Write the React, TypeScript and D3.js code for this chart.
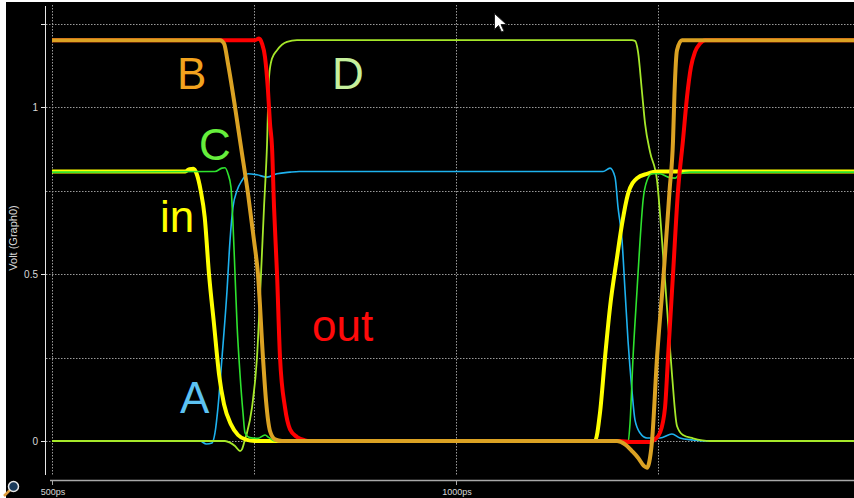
import React from "react";
import * as d3 from "d3";

// Time axis (ps) and signal voltages (V) of the transient simulation
const xTicks = [500, 1000];
const xTickLabels = ["500ps", "1000ps"];
const xGrid = [500, 750, 1000, 1250];
const yGrid = [0, 0.25, 0.5, 0.75, 1, 1.25];
const yTicks = [0, 0.5, 1, 1.25];
const yTickLabels = ["0", "0.5", "1", ""];

// A
const aT = [500, 683, 691, 698, 701.7, 705.4, 710.4, 716.6, 720.3, 724, 729, 735.1, 742.6, 753.7, 766.1, 778.5, 794.6, 806, 1182, 1190.6, 1196.8, 1200.5, 1205.5, 1209.2, 1212.9, 1217.8, 1221.5, 1227.8, 1236.4, 1252.5, 1267.3, 1277.2, 1293.3, 1305, 1493];
const aV = [0, 0, -0.009, -0.006, 0.024, 0.1, 0.25, 0.45, 0.6, 0.7, 0.75, 0.78, 0.8, 0.797, 0.79, 0.8, 0.805, 0.807, 0.807, 0.817, 0.79, 0.7, 0.6, 0.45, 0.3, 0.15, 0.063, 0.024, 0.009, 0.009, 0.021, 0.009, 0.003, 0, 0];

// D
const dT = [500, 714.1, 720.3, 726.5, 732.7, 735.1, 738.9, 741.3, 747.5, 753.7, 758.7, 762.4, 766.1, 768.6, 772.3, 778.5, 790.8, 803.2, 1217.8, 1221.5, 1225.3, 1230.2, 1234, 1240.2, 1248.8, 1255, 1261.1, 1267.3, 1273.5, 1280.9, 1293.3, 1314.4, 1493];
const dV = [0, 0, -0.005, -0.015, -0.03, -0.025, 0.005, 0.024, 0.1, 0.25, 0.5, 0.7, 0.886, 1.09, 1.145, 1.17, 1.195, 1.2, 1.2, 1.198, 1.165, 1.045, 0.95, 0.865, 0.78, 0.6, 0.4, 0.2, 0.045, 0.018, 0.008, 0, 0];

// in
const inT = [500, 665, 670, 675, 679, 684, 689, 694.3, 700.5, 706.7, 712.9, 721.5, 730.2, 740.1, 751, 1172, 1178.2, 1184.4, 1190.6, 1199.3, 1205.5, 1212.9, 1224, 1236.4, 1250, 1493];
const inV = [0.807, 0.807, 0.814, 0.815, 0.8, 0.75, 0.67, 0.5, 0.35, 0.2, 0.11, 0.05, 0.018, 0.004, 0, 0, 0.084, 0.25, 0.4, 0.55, 0.65, 0.74, 0.787, 0.8, 0.807, 0.807];

// C
const cT = [500, 701.7, 710.4, 714.1, 717.8, 721.5, 724, 726.5, 729, 732.7, 736.4, 738.9, 745, 754.9, 763.6, 768.6, 776, 1210, 1212.9, 1215.4, 1219.1, 1224, 1227.8, 1231.5, 1236.4, 1242.6, 1252.5, 1262.4, 1271.1, 1277.2, 1290, 1493];
const cV = [0.805, 0.807, 0.817, 0.818, 0.8, 0.76, 0.65, 0.5, 0.35, 0.2, 0.084, 0.024, 0.01, 0.008, 0.018, 0.01, 0, 0, -0.005, 0.054, 0.25, 0.45, 0.6, 0.72, 0.78, 0.8, 0.8, 0.79, 0.787, 0.8, 0.805, 0.805];

// out
const outT = [500, 751.2, 756.2, 759.9, 763.6, 767.3, 769.8, 772.3, 774.8, 778.5, 782.2, 788.4, 794.6, 803.2, 813.1, 819.3, 1203, 1215.4, 1240.2, 1246.3, 1252.5, 1258.7, 1262.4, 1268.6, 1274.8, 1280.9, 1285.9, 1290.8, 1295.8, 1302, 1308.2, 1493];
const outV = [1.2, 1.2, 1.205, 1.19, 1.15, 1.05, 0.95, 0.88, 0.7, 0.5, 0.25, 0.1, 0.035, 0.012, 0.002, 0, 0, -0.003, -0.003, 0.005, 0.025, 0.1, 0.25, 0.5, 0.75, 0.9, 1.03, 1.12, 1.165, 1.19, 1.2, 1.2];

// B
const bT = [500, 707.9, 712.9, 717.8, 726.5, 733.9, 742.6, 750, 754.9, 761.1, 764.9, 769.8, 776, 784.7, 1199.3, 1209.2, 1217.8, 1225.3, 1232.7, 1236.4, 1239, 1242.6, 1248.8, 1257, 1264.3, 1268.6, 1270.4, 1273.5, 1279.7, 1493];
const bV = [1.2, 1.2, 1.19, 1.13, 1.0, 0.88, 0.74, 0.6, 0.5, 0.25, 0.12, 0.03, 0.005, 0, 0, -0.01, -0.03, -0.05, -0.075, -0.08, -0.065, 0, 0.25, 0.5, 0.75, 0.9, 1.04, 1.17, 1.2, 1.2];

type Trace = { name: string; t: number[]; v: number[]; color: string; width: number };

// drawn back to front
const traces: Trace[] = [
  { name: "A", t: aT, v: aV, color: "#1eb2ef", width: 1.6 },
  { name: "D", t: dT, v: dV, color: "#a6e82a", width: 1.8 },
  { name: "in", t: inT, v: inV, color: "#ffff00", width: 4 },
  { name: "C", t: cT, v: cV, color: "#2ee22e", width: 1.6 },
  { name: "out", t: outT, v: outV, color: "#ff0000", width: 4 },
  { name: "B", t: bT, v: bV, color: "#dba223", width: 4 },
];

const labels = [
  { text: "B", x: 177, y: 89, color: "#f2a31e" },
  { text: "D", x: 332, y: 89, color: "#c6f09c" },
  { text: "C", x: 199, y: 160, color: "#66ee3c" },
  { text: "in", x: 160, y: 232, color: "#ffff00" },
  { text: "A", x: 180, y: 413, color: "#5cc2f2" },
  { text: "out", x: 312, y: 341, color: "#ff0a0a" },
];

const W = 854;
const H = 498;

export default function App() {
  const x = d3.scaleLinear().domain([500, 1000]).range([52, 456]);
  const y = d3.scaleLinear().domain([0, 1]).range([441, 107]);

  const line = (tr: Trace) =>
    d3
      .line<number>()
      .x((_, i) => x(tr.t[i]))
      .y((d) => y(d))
      .curve(d3.curveMonotoneX)(tr.v) || "";

  const grid = "#9a9a9a";

  return (
    <svg
      width={W}
      height={H}
      style={{ position: "fixed", left: 0, top: 0, display: "block" }}
      fontFamily="'Liberation Sans', Arial, sans-serif"
    >
      <rect x={0} y={0} width={W} height={H} fill="#ffffff" />
      <rect x={6} y={2} width={W - 6} height={H - 2} fill="#000000" />

      <defs>
        <clipPath id="plot">
          <rect x={46} y={5} width={W - 46} height={472} />
        </clipPath>
      </defs>

      {/* grid */}
      {yGrid.map((g) => (
        <line
          key={"h" + g}
          x1={46}
          x2={W}
          y1={Math.round(y(g)) + 0.5}
          y2={Math.round(y(g)) + 0.5}
          stroke={grid}
          strokeDasharray="1.5,1.5"
          strokeWidth={1}
        />
      ))}
      {xGrid.map((g) => (
        <line
          key={"v" + g}
          x1={Math.round(x(g)) + 0.5}
          x2={Math.round(x(g)) + 0.5}
          y1={5}
          y2={476}
          stroke={grid}
          strokeDasharray="1.5,1.5"
          strokeWidth={1}
        />
      ))}

      {/* y axis */}
      <line x1={45.5} x2={45.5} y1={6} y2={475} stroke="#e6e6e6" strokeWidth={1} />
      {yTicks.map((t, i) => (
        <g key={"yt" + t}>
          <line x1={41} x2={45} y1={Math.round(y(t)) + 0.5} y2={Math.round(y(t)) + 0.5} stroke="#e6e6e6" />
          <text
            x={38}
            y={y(t) + 3.5}
            fill="#d8d8d8"
            fontSize={10}
            textAnchor="end"
          >
            {yTickLabels[i]}
          </text>
        </g>
      ))}
      <text
        transform={`translate(17,238) rotate(-90)`}
        fill="#d8d8d8"
        fontSize={11}
        textAnchor="middle"
      >
        Volt (Graph0)
      </text>

      {/* x axis */}
      <line x1={50} x2={W} y1={480.5} y2={480.5} stroke="#a8a8a8" strokeWidth={1.5} />
      {xTicks.map((t, i) => (
        <g key={"xt" + t}>
          <line x1={Math.round(x(t)) + 0.5} x2={Math.round(x(t)) + 0.5} y1={481} y2={485} stroke="#a8a8a8" />
          <text x={x(t) + 1} y={495} fill="#d8d8d8" fontSize={9} textAnchor="middle">
            {xTickLabels[i]}
          </text>
        </g>
      ))}

      {/* traces */}
      <g clipPath="url(#plot)">
        {traces.map((tr) => (
          <path
            key={tr.name}
            d={line(tr)}
            fill="none"
            stroke={tr.color}
            strokeWidth={tr.width}
            strokeLinejoin="round"
            strokeLinecap="butt"
          />
        ))}
      </g>

      {/* trace names */}
      {labels.map((l) => (
        <text key={l.text} x={l.x} y={l.y} fill={l.color} fontSize={44}>
          {l.text}
        </text>
      ))}

      {/* mouse pointer */}
      <path
        d="M494.5,13.5 L494.5,29.5 L498.5,25.5 L501.5,32 L504,31 L501,24.5 L506.5,24.5 Z"
        fill="#ffffff"
        stroke="#202020"
        strokeWidth={1}
      />

      {/* zoom icon */}
      <g>
        <line x1={4} y1={496} x2={10} y2={490} stroke="#e0a040" strokeWidth={2.5} />
        <circle cx={13.5} cy={486.5} r={5} fill="#1a3a5a" stroke="#e8e8e8" strokeWidth={1.5} />
      </g>
    </svg>
  );
}
